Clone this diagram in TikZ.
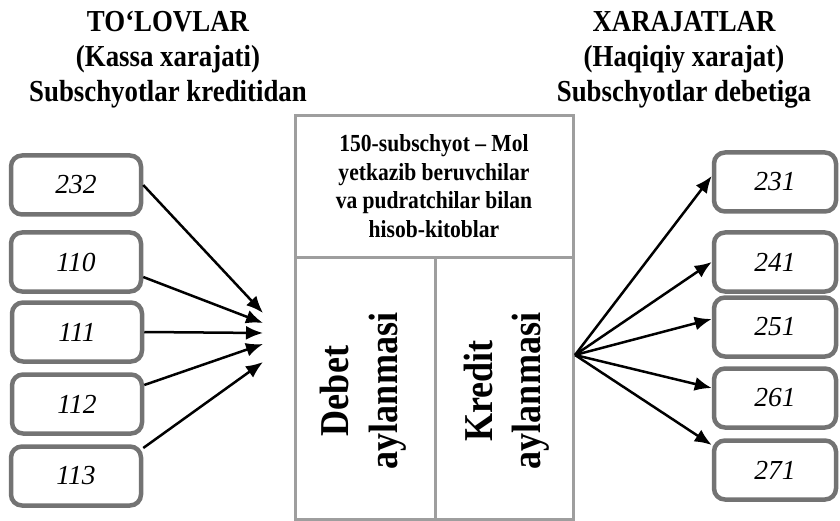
\documentclass[tikz,border=0pt]{standalone}
\usepackage{fontspec}
\setmainfont{Liberation Serif}
\newfontfamily\headfont{Liberation Serif}[FakeStretch=0.88]
\usetikzlibrary{arrows.meta}
\begin{document}
\begin{tikzpicture}[x=1pt,y=-1pt,
  acct/.style={draw=black!55, line width=4.5pt, rounded corners=11pt,
    minimum width=130pt, minimum height=59pt, inner sep=0pt,
    font=\fontsize{27.5}{30}\selectfont\itshape},
  frame/.style={draw=black!38, line width=3pt},
  head/.style={align=center, font=\headfont\bfseries\fontsize{30.5}{35}\selectfont},
  flow/.style={line width=2.5pt, -{Latex[length=17pt,width=14pt]}}]
\useasboundingbox (0,0) rectangle (840,521);

% column headings
\node[head] (hl) at (168,60) {TO‘LOVLAR\\(Kassa xarajati)\\Subschyotlar kreditidan};
\node[head] (hr) at (684,60) {XARAJATLAR\\(Haqiqiy xarajat)\\Subschyotlar debetiga};

% the 150 sub-account
\draw[frame] (295,116) rectangle (573,519);
\draw[frame] (295,258) -- (573,258);
\draw[frame] (435,258) -- (435,519);
\node[align=center, font=\headfont\bfseries\fontsize{24.5}{28.5}\selectfont] (acc)
  at (434,186) {150-subschyot – Mol\\yetkazib beruvchilar\\va pudratchilar bilan\\hisob-kitoblar};
\node[rotate=90, align=center, font=\headfont\bfseries\fontsize{41}{49}\selectfont] (deb)
  at (363,391) {Debet\\aylanmasi};
\node[rotate=90, align=center, font=\headfont\bfseries\fontsize{41}{48}\selectfont] (kre)
  at (507,391) {Kredit\\aylanmasi};

% payment sub-accounts
\node[acct] (l1) at (76,185) {232};
\node[acct] (l2) at (76,262) {110};
\node[acct] (l3) at (77,332) {111};
\node[acct] (l4) at (77,404) {112};
\node[acct] (l5) at (76,476) {113};

% expense sub-accounts
\node[acct, minimum width=122pt] (r1) at (775,182) {231};
\node[acct, minimum width=122pt] (r2) at (775,262) {241};
\node[acct, minimum width=122pt] (r3) at (775,327) {251};
\node[acct, minimum width=122pt] (r4) at (775,398) {261};
\node[acct, minimum width=122pt] (r5) at (775,470) {271};

% arrow ends
\coordinate (t1) at (263,313);
\coordinate (t2) at (263,323);
\coordinate (t3) at (263,333);
\coordinate (t4) at (263,344);
\coordinate (t5) at (263,362);
\coordinate (src) at (575,355);

\draw[flow] (l1.east) -- (t1);
\draw[flow] ([yshift=-15pt]l2.east) -- (t2);
\draw[flow] (l3.east) -- (t3);
\draw[flow] ([yshift=19pt]l4.east) -- (t4);
\draw[flow] ([yshift=28pt]l5.east) -- (t5);

\draw[flow] (src) -- ([yshift=6pt]r1.west);
\draw[flow] (src) -- (r2.west);
\draw[flow] (src) -- ([yshift=8pt]r3.west);
\draw[flow] (src) -- ([yshift=10pt]r4.west);
\draw[flow] (src) -- ([yshift=25pt]r5.west);
\end{tikzpicture}
\end{document}
